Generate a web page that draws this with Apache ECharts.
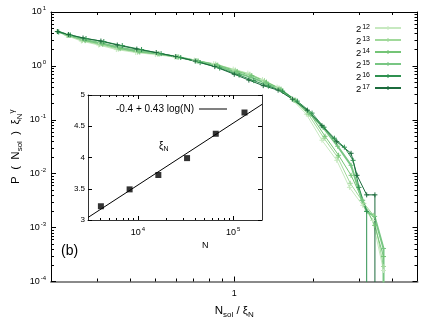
<!DOCTYPE html>
<html>
<head>
<meta charset="utf-8">
<script src="https://cdn.jsdelivr.net/npm/echarts@6/dist/echarts.min.js"></script>
<style>
  html, body { margin: 0; padding: 0; background: #fff; }
  #chart { width: 436px; height: 327px; }
</style>
</head>
<body>
<div id="chart"></div>
<script>
// N_sol / xi_N and P(N_sol) xi_N^gamma for each system size (last point = 0, drops off the log axis)
const x12 = [0.212, 0.229, 0.261, 0.304, 0.355, 0.421, 0.50, 0.593, 0.704, 0.835, 0.991, 1.127, 1.282, 1.457, 1.657, 1.884, 2.16, 2.46, 2.75, 3.09, 3.37, 3.71, 3.71]
const y12 = [4.34, 3.66, 2.89, 2.44, 2.01, 1.77, 1.62, 1.46, 1.28, 1.10, 0.872, 0.734, 0.556, 0.404, 0.241, 0.127, 0.0418, 0.0177, 0.00558, 0.00259, 0.00136, 0.00016, 1e-9]
const x13 = [0.211, 0.231, 0.263, 0.307, 0.361, 0.428, 0.509, 0.603, 0.716, 0.850, 1.009, 1.147, 1.304, 1.482, 1.686, 1.917, 2.20, 2.48, 2.77, 3.12, 3.40, 3.71, 3.71]
const y13 = [4.34, 3.66, 2.95, 2.49, 2.05, 1.80, 1.66, 1.47, 1.25, 1.08, 0.835, 0.70, 0.533, 0.387, 0.231, 0.127, 0.0455, 0.0202, 0.00664, 0.00282, 0.00169, 0.00019, 1e-9]
const x14 = [0.212, 0.233, 0.270, 0.315, 0.367, 0.436, 0.517, 0.614, 0.729, 0.865, 1.026, 1.166, 1.327, 1.508, 1.715, 1.95, 2.22, 2.50, 2.79, 3.09, 3.43, 3.71, 3.71]
const y14 = [4.34, 3.71, 2.94, 2.52, 2.09, 1.81, 1.66, 1.46, 1.23, 1.035, 0.79, 0.66, 0.50, 0.371, 0.231, 0.128, 0.0495, 0.022, 0.00934, 0.00321, 0.0011, 0.00029, 1e-9]
const x15 = [0.212, 0.235, 0.268, 0.312, 0.364, 0.432, 0.513, 0.609, 0.722, 0.857, 1.017, 1.157, 1.315, 1.495, 1.70, 1.93, 2.18, 2.48, 2.79, 3.07, 3.20, 3.43, 3.71, 3.71]
const y15 = [4.34, 3.69, 3.07, 2.64, 2.20, 1.89, 1.69, 1.46, 1.23, 1.01, 0.75, 0.62, 0.479, 0.363, 0.231, 0.1355, 0.0729, 0.0323, 0.0143, 0.00321, 0.0020, 0.00161, 0.00041, 1e-9]
const x16 = [0.214, 0.237, 0.272, 0.318, 0.374, 0.443, 0.526, 0.625, 0.741, 0.880, 1.044, 1.187, 1.35, 1.53, 1.74, 1.98, 2.20, 2.41, 2.63, 2.84, 2.99, 3.20, 3.20]
const y16 = [4.25, 3.74, 3.22, 2.83, 2.38, 2.01, 1.69, 1.43, 1.15, 0.91, 0.675, 0.533, 0.422, 0.340, 0.222, 0.133, 0.0728, 0.0455, 0.031, 0.0177, 0.00558, 0.0020, 1e-9]
const x17 = [0.212, 0.233, 0.265, 0.310, 0.358, 0.425, 0.504, 0.598, 0.710, 0.843, 1.0, 1.137, 1.29, 1.47, 1.67, 1.90, 2.16, 2.46, 2.79, 2.94, 3.20, 3.44, 3.44]
const y17 = [4.34, 3.82, 3.29, 2.89, 2.44, 2.05, 1.77, 1.49, 1.23, 0.97, 0.70, 0.545, 0.43, 0.355, 0.241, 0.151, 0.0776, 0.0392, 0.0239, 0.00934, 0.00405, 0.00405, 1e-9]

const sizes = ['12', '13', '14', '15', '16', '17']
const xs = [x12, x13, x14, x15, x16, x17]
const ys = [y12, y13, y14, y15, y16, y17]
const colors = ['#c7e9c0', '#a1d99b', '#74c476', '#78c683', '#2f9150', '#1b6b3c']
const widths = [1, 1, 1, 2, 1, 1]

// inset: xi_N against N, plus the fitted line -0.4 + 0.43 log(N)
const sampleN = [4096, 8192, 16384, 32768, 65536, 131072]
const xiN = [3.22, 3.49, 3.72, 3.99, 4.38, 4.72]
const fitN = [3000, 200000]
const fitXi = [3.04, 4.85]

// tick marks
const mainXMajor = [1]
const mainXMinor = [0.3, 0.4, 0.5, 0.6, 0.7, 0.8, 0.9, 2, 3, 4]
const mainYMajor = [1e-4, 1e-3, 1e-2, 1e-1, 1, 10]
const mainYMinor = [2, 3, 4, 5, 6, 7, 8, 9]
const insetXMajor = [1e4, 1e5]
const insetXMinor = [4000, 5000, 6000, 7000, 8000, 9000, 20000, 30000, 40000, 50000, 60000, 70000, 80000, 90000]

const FONT = 'Liberation Sans'
const lg = v => Math.log10(v)
const supRich = {
  base: { fontSize: 9, lineHeight: 13, fontFamily: FONT, color: '#000' },
  sup: { fontSize: 6, lineHeight: 13, verticalAlign: 'top', fontFamily: FONT, color: '#000', padding: [0, 0, 0, 1] }
}
const legendRich = {
  base: { fontSize: 9.5, lineHeight: 9, fontFamily: FONT, color: '#000', padding: [2, 0, 0, 0] },
  sup: { fontSize: 7, lineHeight: 9, verticalAlign: 'top', fontFamily: FONT, color: '#000', padding: [0, 0, 0, 1] }
}
const powLabel = v => '{base|10}{sup|' + Math.round(v) + '}'

const yMinorVals = []
for (let d = -4; d < 1; d++) {
  mainYMinor.forEach(k => yMinorVals.push(lg(k) + d))
}

// axes that only draw ticks/labels, in log10 units over the same range as the data axes
function decor(grid, pos, lo, hi, ticks, len, labels, fmt, line, labelOpt) {
  return {
    type: 'value', gridIndex: grid, position: pos, min: lo, max: hi,
    axisLine: { show: !!line, onZero: false, lineStyle: line || {} },
    axisTick: { show: true, inside: true, length: len, customValues: ticks, lineStyle: { color: '#000', width: 1 } },
    axisLabel: labels ? Object.assign({ show: true, customValues: labels, formatter: fmt, rich: supRich }, labelOpt) : { show: false },
    splitLine: { show: false }
  }
}

const blackLine = { color: '#000', width: 1 }
const insetLine = { color: '#333', width: 1 }
const xLo = lg(0.2), xHi = lg(5)
const iLo = lg(3000), iHi = lg(200000)

const plus = 'path://M0,5H10M5,0V10'

const mainSeries = sizes.map((s, i) => ({
  name: 'n' + s,
  type: 'line',
  xAxisIndex: 0,
  yAxisIndex: 0,
  data: xs[i].map((x, j) => [x, ys[i][j]]),
  symbol: plus,
  symbolSize: 5,
  showSymbol: true,
  clip: true,
  lineStyle: { color: colors[i], width: widths[i] },
  itemStyle: { color: colors[i], borderColor: colors[i], borderWidth: 1 }
}))

const nameRich = {
  base: { fontSize: 11.5, fontFamily: FONT, color: '#000', lineHeight: 16 },
  sub: { fontSize: 8, fontFamily: FONT, color: '#000', lineHeight: 16, verticalAlign: 'bottom' },
  sup: { fontSize: 8, fontFamily: FONT, color: '#000', lineHeight: 16, verticalAlign: 'top' }
}

const chart = echarts.init(document.getElementById('chart'))
chart.setOption({
  animation: false,
  textStyle: { fontFamily: FONT },
  grid: [
    { left: 42, top: 12, right: 18.5, bottom: 45.5 },
    { left: 88, top: 95, right: 174, bottom: 107, show: true, backgroundColor: '#fff', borderWidth: 0 }
  ],
  legend: [
    {
      data: sizes.map(s => 'n' + s),
      orient: 'vertical',
      right: 29, top: 17,
      align: 'right',
      itemWidth: 26, itemHeight: 5, itemGap: 0,
      itemStyle: { borderWidth: 1 },
      formatter: name => '{base|2}{sup|' + name.slice(1) + '}',
      textStyle: { rich: legendRich }
    },
    {
      data: ['fit'],
      right: 204, top: 99,
      align: 'right',
      icon: 'rect',
      itemWidth: 28, itemHeight: 1,
      formatter: () => '-0.4 + 0.43 log(N)',
      textStyle: { fontSize: 10, fontFamily: FONT, color: '#000' }
    }
  ],
  xAxis: [
    {
      type: 'log', gridIndex: 0, min: 0.2, max: 5,
      axisLine: { show: true, onZero: false, lineStyle: { color: '#8a8a8a', width: 2 } },
      axisTick: { show: false }, axisLabel: { show: false }, splitLine: { show: false },
      name: '{base|N}{sub|sol}{base| / ξ}{sub|N}', nameLocation: 'middle', nameGap: 21,
      nameTextStyle: { rich: nameRich }
    },
    decor(0, 'bottom', xLo, xHi, mainXMajor.map(lg), 5, mainXMajor.map(lg), v => '{base|1}', null, { margin: 6 }),
    decor(0, 'bottom', xLo, xHi, mainXMinor.map(lg), 3, null),
    decor(0, 'top', xLo, xHi, mainXMajor.map(lg), 5, null, null, blackLine),
    decor(0, 'top', xLo, xHi, mainXMinor.map(lg), 3, null),
    {
      type: 'log', gridIndex: 1, min: 3000, max: 200000,
      axisLine: { show: true, onZero: false, lineStyle: insetLine },
      axisTick: { show: false }, axisLabel: { show: false }, splitLine: { show: false }
    },
    decor(1, 'bottom', iLo, iHi, insetXMajor.map(lg), 4, insetXMajor.map(lg), powLabel, null, { margin: 6 }),
    decor(1, 'bottom', iLo, iHi, insetXMinor.map(lg), 2, null),
    decor(1, 'top', iLo, iHi, insetXMajor.map(lg), 4, null, null, insetLine),
    decor(1, 'top', iLo, iHi, insetXMinor.map(lg), 2, null)
  ],
  yAxis: [
    {
      type: 'log', gridIndex: 0, min: 1e-4, max: 10,
      axisLine: { show: true, onZero: false, lineStyle: blackLine },
      axisTick: { show: false }, axisLabel: { show: false }, splitLine: { show: false },
      name: '{base|P  (  N}{sub|sol}{base|  )  ξ}{sub|N}{sup|γ}', nameLocation: 'middle', nameGap: 27, nameRotate: 90,
      nameTextStyle: { rich: nameRich }
    },
    decor(0, 'left', -4, 1, mainYMajor.map(lg), 5, mainYMajor.map(lg), powLabel, null, { margin: 5 }),
    decor(0, 'left', -4, 1, yMinorVals, 3, null),
    decor(0, 'right', -4, 1, mainYMajor.map(lg), 5, null, null, blackLine),
    decor(0, 'right', -4, 1, yMinorVals, 3, null),
    {
      type: 'value', gridIndex: 1, min: 3, max: 5, interval: 0.5,
      axisLine: { show: true, onZero: false, lineStyle: insetLine },
      axisTick: { show: true, inside: true, length: 4, lineStyle: blackLine },
      axisLabel: { fontSize: 8, margin: 3, color: '#000', fontFamily: FONT },
      splitLine: { show: false }
    },
    {
      type: 'value', gridIndex: 1, position: 'right', min: 3, max: 5, interval: 0.5,
      axisLine: { show: true, onZero: false, lineStyle: insetLine },
      axisTick: { show: true, inside: true, length: 4, lineStyle: blackLine },
      axisLabel: { show: false }, splitLine: { show: false }
    }
  ],
  graphic: [
    { type: 'text', left: 61, top: 244, style: { text: '(b)', fontSize: 14, fontFamily: FONT, fill: '#000' } },
    { type: 'text', left: 159, top: 141, style: {
      text: '{b|ξ}{s|N}', rich: {
        b: { fontSize: 10, fontFamily: FONT, fill: '#000', lineHeight: 13 },
        s: { fontSize: 7, fontFamily: FONT, fill: '#000', lineHeight: 13, verticalAlign: 'bottom' }
      } } },
    { type: 'text', left: 202, top: 241, style: { text: 'N', fontSize: 9, fontFamily: FONT, fill: '#000' } }
  ],
  series: mainSeries.concat([
    {
      name: 'xi', type: 'scatter', xAxisIndex: 5, yAxisIndex: 5,
      data: sampleN.map((n, i) => [n, xiN[i]]),
      symbol: 'rect', symbolSize: 6, itemStyle: { color: '#000' }
    },
    {
      name: 'fit', type: 'line', xAxisIndex: 5, yAxisIndex: 5,
      data: fitN.map((n, i) => [n, fitXi[i]]),
      symbol: 'none', lineStyle: { color: '#000', width: 1 }, itemStyle: { color: '#000' }
    }
  ])
})
</script>
</body>
</html>
